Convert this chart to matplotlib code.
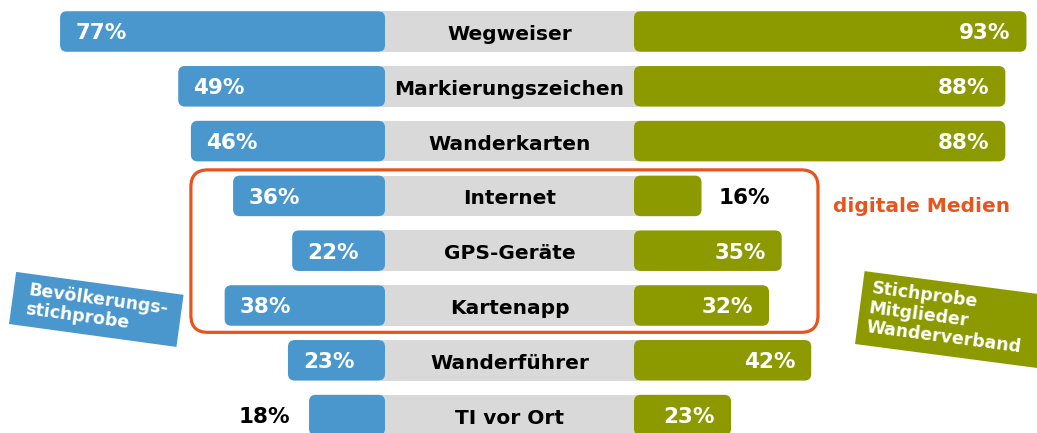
import numpy as np
import matplotlib.pyplot as plt
from matplotlib.patches import FancyBboxPatch, Rectangle

# Daten
kategorien = ["Wegweiser", "Markierungszeichen", "Wanderkarten", "Internet",
              "GPS-Geräte", "Kartenapp", "Wanderführer", "TI vor Ort"]
bevoelkerung = [77, 49, 46, 36, 22, 38, 23, 18]
mitglieder = [93, 88, 88, 16, 35, 32, 42, 23]
digitale_medien = ["Internet", "GPS-Geräte", "Kartenapp"]

blau = "#4a97ce"
gruen = "#8c9a00"
grau = "#d9d9d9"
orange = "#e8541c"

plt.rcParams["font.family"] = "DejaVu Sans"

fig = plt.figure(figsize=(10.37, 4.33), dpi=100)
ax = fig.add_axes([0, 0, 1, 1])

px_x = 4.22   # Pixel pro Prozentpunkt
px_y = 54.8   # Pixel pro Zeile
mitte = 29.5  # halbe Breite des grauen Bands
ax.set_xlim(-509.5 / px_x, (1037 - 509.5) / px_x)
ax.set_ylim((433 - 31.5) / px_y, -31.5 / px_y)
ax.axis("off")

h = 0.74
asp = px_x / px_y


def balken(x0, breite, y, farbe, r=1.6, z=3):
    p = FancyBboxPatch((x0, y - h / 2), breite, h,
                       boxstyle=f"round,pad=0,rounding_size={r}",
                       mutation_aspect=asp, fc=farbe, ec="none", zorder=z)
    ax.add_patch(p)


y = np.arange(len(kategorien))

# graues Band in der Mitte
ax.barh(y, 2 * mitte + 2, left=-mitte - 1, height=h, color=grau, zorder=2)

for i, kat in enumerate(kategorien):
    b = bevoelkerung[i]
    m = mitglieder[i]
    balken(-mitte - b, b, i, blau)
    balken(mitte, m, i, gruen)

    ax.text(0, i + 0.02, kat, ha="center", va="center_baseline", fontsize=14.5,
            fontweight="bold", color="black", zorder=5)

    if b < 20:
        ax.text(-mitte - b - 4.5, i, f"{b}%", ha="right", va="center_baseline",
                fontsize=15.5, fontweight="bold", color="black", zorder=5)
    else:
        ax.text(-mitte - b + 3.6, i, f"{b}%", ha="left", va="center_baseline",
                fontsize=15.5, fontweight="bold", color="white", zorder=5)
    if m < 20:
        ax.text(mitte + m + 4, i, f"{m}%", ha="left", va="center_baseline",
                fontsize=15.5, fontweight="bold", color="black", zorder=5)
    else:
        ax.text(mitte + m - 3.8, i, f"{m}%", ha="right", va="center_baseline",
                fontsize=15.5, fontweight="bold", color="white", zorder=5)

# Rahmen um die digitalen Medien
idx = [kategorien.index(k) for k in digitale_medien]
y0 = min(idx) - 0.475
y1 = max(idx) + 0.49
rahmen = FancyBboxPatch((-75.5, y0), 148.6, y1 - y0,
                        boxstyle="round,pad=0,rounding_size=4",
                        mutation_aspect=asp, fc="none", ec=orange, lw=2.3, zorder=6)
ax.add_patch(rahmen)
ax.text(76.7, 3.2, "digitale Medien", ha="left", va="center", fontsize=14.5,
        fontweight="bold", color=orange)

# gedrehte Beschriftungskästen (Pixelkoordinaten)
ax2 = fig.add_axes([0, 0, 1, 1], zorder=10)
ax2.set_xlim(0, 1037)
ax2.set_ylim(0, 433)
ax2.axis("off")


def kasten(xy, w, hh, winkel, farbe):
    t = np.radians(winkel)
    u = np.array([np.cos(t), -np.sin(t)])
    v = np.array([np.sin(t), np.cos(t)])
    ax2.add_patch(Rectangle(xy, w, hh, angle=-winkel, fc=farbe, ec="none"))
    return np.array(xy), u, v


p, u, v = kasten((9, 109), 169, 52.6, 7.8, blau)
c = p + 85 * u + 26.3 * v
ax2.text(c[0], c[1], "Bevölkerungs-\nstichprobe", ha="center", va="center",
         rotation=-7.8, rotation_mode="anchor", multialignment="left",
         fontsize=12.5, fontweight="bold", color="white", linespacing=1.1)

p, u, v = kasten((855, 89), 230, 73.5, 7.5, gruen)
a = p + 73.5 * v + 9 * u - 7 * v
ax2.text(a[0], a[1], "Stichprobe\nMitglieder\nWanderverband", ha="left", va="top",
         rotation=-7.5, rotation_mode="anchor", fontsize=12.5, fontweight="bold",
         color="white", linespacing=1.12)

fig.savefig("out.png", dpi=100)
